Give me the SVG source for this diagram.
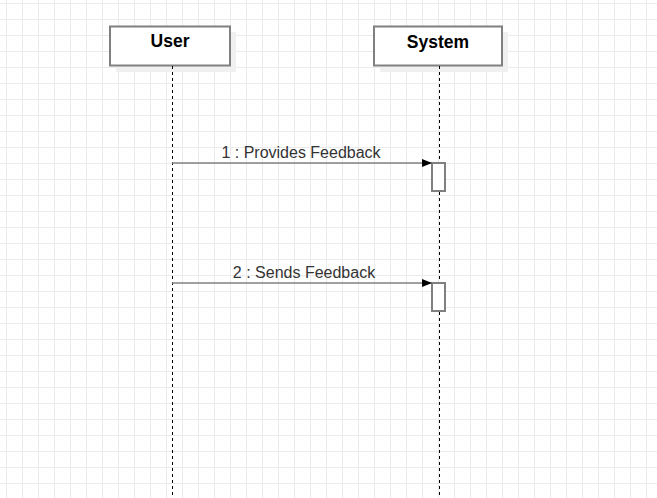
<svg xmlns="http://www.w3.org/2000/svg" width="657" height="498" viewBox="0 0 657 498">
  <defs>
    <pattern id="grid" patternUnits="userSpaceOnUse" x="6" y="3" width="16" height="16">
      <path d="M0.5 0V16M0 0.5H16" stroke="#ebebeb" stroke-width="1" fill="none"/>
    </pattern>
    <marker id="arrow" markerWidth="10" markerHeight="8" refX="10" refY="4" orient="auto" markerUnits="userSpaceOnUse">
      <path d="M0 0L10 4L0 8Z" fill="#000"/>
    </marker>
  </defs>
  <style>
    .box { fill: #fff; stroke: #808080; stroke-width: 2; }
    .shadow { fill: #f0f0f0; }
    .label { font-family: "Liberation Sans", Arial, sans-serif; font-size: 17.5px; font-weight: bold; fill: #000; text-anchor: middle; }
    .msg { font-family: "Liberation Sans", Arial, sans-serif; font-size: 16px; fill: #333; text-anchor: middle; }
    .life { stroke: #000; stroke-width: 1; stroke-dasharray: 3 3; fill: none; }
    .conn { stroke: #808080; stroke-width: 1.5; fill: none; }
    .act { fill: #fff; stroke: #808080; stroke-width: 2; }
  </style>
  <rect width="657" height="498" fill="#fff"/>
  <rect width="657" height="498" fill="url(#grid)"/>

  <g id="user">
    <rect class="shadow" x="116" y="32" width="120" height="40"/>
    <rect class="box" x="110" y="26.5" width="120" height="39"/>
    <text class="label" x="170" y="47">User</text>
    <line class="life" x1="172.5" y1="66" x2="172.5" y2="498"/>
  </g>

  <g id="system">
    <rect class="shadow" x="380" y="32" width="128" height="40"/>
    <rect class="box" x="374" y="26.5" width="128" height="39"/>
    <text class="label" x="438" y="47.5">System</text>
    <line class="life" x1="439.5" y1="66" x2="439.5" y2="498"/>
  </g>

  <g id="act1">
    <rect class="act" x="432" y="163" width="13" height="28"/>
  </g>
  <g id="act2">
    <rect class="act" x="432" y="283" width="13" height="28"/>
  </g>

  <g id="connectors">
    <line class="conn" x1="172" y1="163" x2="432" y2="163" marker-end="url(#arrow)"/>
    <text class="msg" x="301" y="157.5">1 : Provides Feedback</text>
    <line class="conn" x1="172" y1="283" x2="432" y2="283" marker-end="url(#arrow)"/>
    <text class="msg" x="304" y="277.5">2 : Sends Feedback</text>
  </g>
</svg>
